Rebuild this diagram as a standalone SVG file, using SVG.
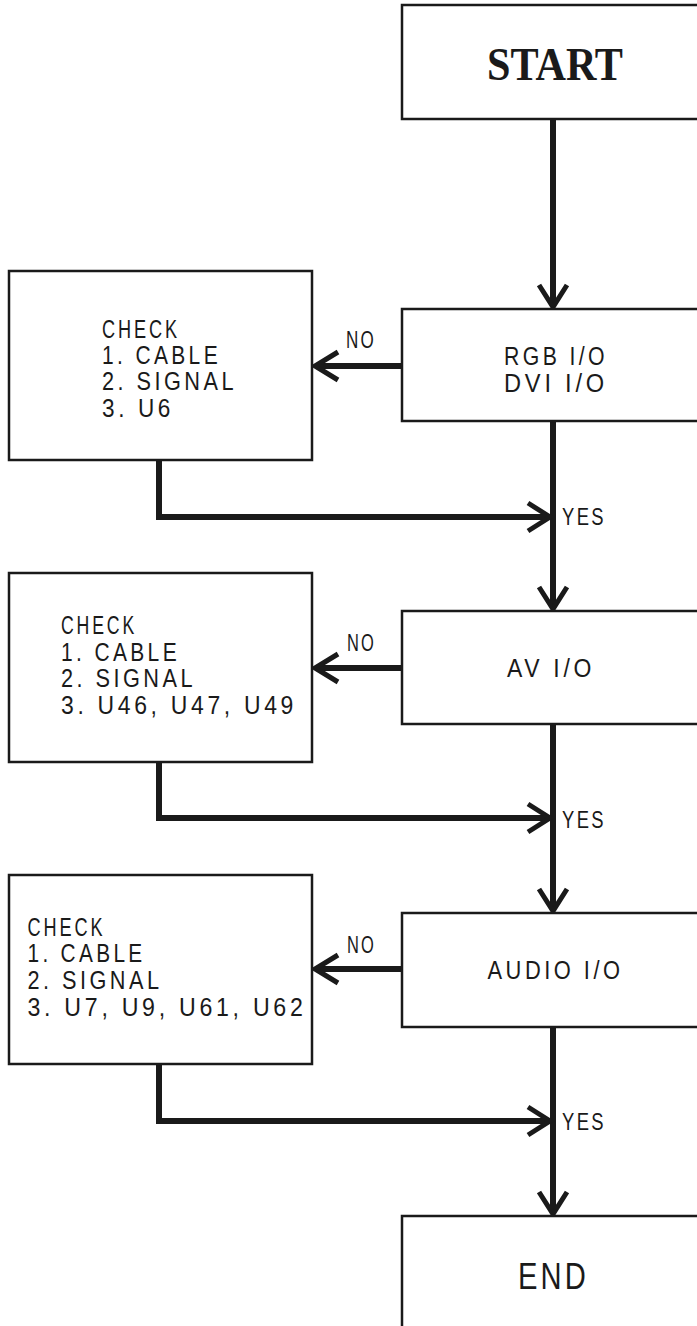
<svg xmlns="http://www.w3.org/2000/svg" width="697" height="1326" viewBox="0 0 697 1326">
<style>
.box{fill:#fff;stroke:#1a1a1a;stroke-width:2.5}
.t{font-family:"Liberation Sans",Arial,sans-serif;font-size:25px;fill:#1a1a1a;letter-spacing:4px}
.lbl{font-family:"Liberation Sans",Arial,sans-serif;font-size:23px;fill:#1a1a1a;letter-spacing:3px}
.ln{fill:none;stroke:#1a1a1a;stroke-width:6;stroke-linejoin:miter}
.ah{fill:none;stroke:#1a1a1a;stroke-width:5;stroke-linejoin:miter;stroke-miterlimit:10}
</style>
<rect width="697" height="1326" fill="#fff"/>
<g id="connectors">
<line class="ln" x1="553" y1="119" x2="553" y2="305"/>
<polyline class="ah" points="539,285 553,307 567,285"/>
<line class="ln" x1="553" y1="421" x2="553" y2="607"/>
<polyline class="ah" points="539,587 553,609 567,587"/>
<line class="ln" x1="553" y1="724" x2="553" y2="909"/>
<polyline class="ah" points="539,889 553,911 567,889"/>
<line class="ln" x1="553" y1="1027" x2="553" y2="1212"/>
<polyline class="ah" points="539,1192 553,1214 567,1192"/>
<line class="ln" x1="402" y1="366" x2="317" y2="366"/>
<polyline class="ah" points="338,352 315,366 338,380"/>
<line class="ln" x1="402" y1="668" x2="317" y2="668"/>
<polyline class="ah" points="338,654 315,668 338,682"/>
<line class="ln" x1="402" y1="969" x2="317" y2="969"/>
<polyline class="ah" points="338,955 315,969 338,983"/>
<path class="ln" d="M159 460 V517 H548"/>
<polyline class="ah" points="528,503 550,517 528,531"/>
<path class="ln" d="M159 762 V818 H548"/>
<polyline class="ah" points="528,804 550,818 528,832"/>
<path class="ln" d="M159 1064 V1121 H548"/>
<polyline class="ah" points="528,1107 550,1121 528,1135"/>
<text class="lbl" x="346" y="348" textLength="30" lengthAdjust="spacingAndGlyphs">NO</text>
<text class="lbl" x="347" y="651" textLength="29" lengthAdjust="spacingAndGlyphs">NO</text>
<text class="lbl" x="347" y="953" textLength="29" lengthAdjust="spacingAndGlyphs">NO</text>
<text class="lbl" x="562" y="525" textLength="44" lengthAdjust="spacingAndGlyphs">YES</text>
<text class="lbl" x="562" y="828" textLength="44" lengthAdjust="spacingAndGlyphs">YES</text>
<text class="lbl" x="562" y="1130" textLength="44" lengthAdjust="spacingAndGlyphs">YES</text>
</g>
<g id="start">
<rect class="box" x="402" y="5" width="400" height="114"/>
<text x="487" y="80" font-family="Liberation Serif,Times New Roman,serif" font-size="46" font-weight="bold" fill="#1a1a1a" textLength="136" lengthAdjust="spacingAndGlyphs">START</text>
</g>
<g id="rgb">
<rect class="box" x="402" y="309" width="400" height="112"/>
<text class="t" x="504" y="365" textLength="104" lengthAdjust="spacingAndGlyphs">RGB I/O</text>
<text class="t" x="504" y="392" textLength="104" lengthAdjust="spacingAndGlyphs">DVI I/O</text>
</g>
<g id="check1">
<rect class="box" x="9" y="271" width="303" height="189"/>
<text class="t" x="102" y="338" textLength="78" lengthAdjust="spacingAndGlyphs">CHECK</text>
<text class="t" x="102" y="364" textLength="119" lengthAdjust="spacingAndGlyphs">1. CABLE</text>
<text class="t" x="102" y="390" textLength="135" lengthAdjust="spacingAndGlyphs">2. SIGNAL</text>
<text class="t" x="102" y="417" textLength="72" lengthAdjust="spacingAndGlyphs">3. U6</text>
</g>
<g id="av">
<rect class="box" x="402" y="611" width="400" height="113"/>
<text class="t" x="507" y="677" textLength="88" lengthAdjust="spacingAndGlyphs">AV I/O</text>
</g>
<g id="check2">
<rect class="box" x="9" y="573" width="303" height="189"/>
<text class="t" x="61" y="634" textLength="76" lengthAdjust="spacingAndGlyphs">CHECK</text>
<text class="t" x="61" y="661" textLength="119" lengthAdjust="spacingAndGlyphs">1. CABLE</text>
<text class="t" x="61" y="687" textLength="135" lengthAdjust="spacingAndGlyphs">2. SIGNAL</text>
<text class="t" x="61" y="714" textLength="236" lengthAdjust="spacingAndGlyphs">3. U46, U47, U49</text>
</g>
<g id="audio">
<rect class="box" x="402" y="913" width="400" height="114"/>
<text class="t" x="487.5" y="979" textLength="136" lengthAdjust="spacingAndGlyphs">AUDIO I/O</text>
</g>
<g id="check3">
<rect class="box" x="9" y="875" width="303" height="189"/>
<text class="t" x="27.5" y="936" textLength="78" lengthAdjust="spacingAndGlyphs">CHECK</text>
<text class="t" x="27.5" y="962" textLength="118" lengthAdjust="spacingAndGlyphs">1. CABLE</text>
<text class="t" x="27.5" y="989" textLength="135" lengthAdjust="spacingAndGlyphs">2. SIGNAL</text>
<text class="t" x="27.5" y="1016" textLength="279" lengthAdjust="spacingAndGlyphs">3. U7, U9, U61, U62</text>
</g>
<g id="end">
<rect class="box" x="402" y="1216" width="400" height="200"/>
<text class="t" x="518" y="1289" font-size="37" textLength="71" lengthAdjust="spacingAndGlyphs" style="font-size:37px">END</text>
</g>
</svg>
